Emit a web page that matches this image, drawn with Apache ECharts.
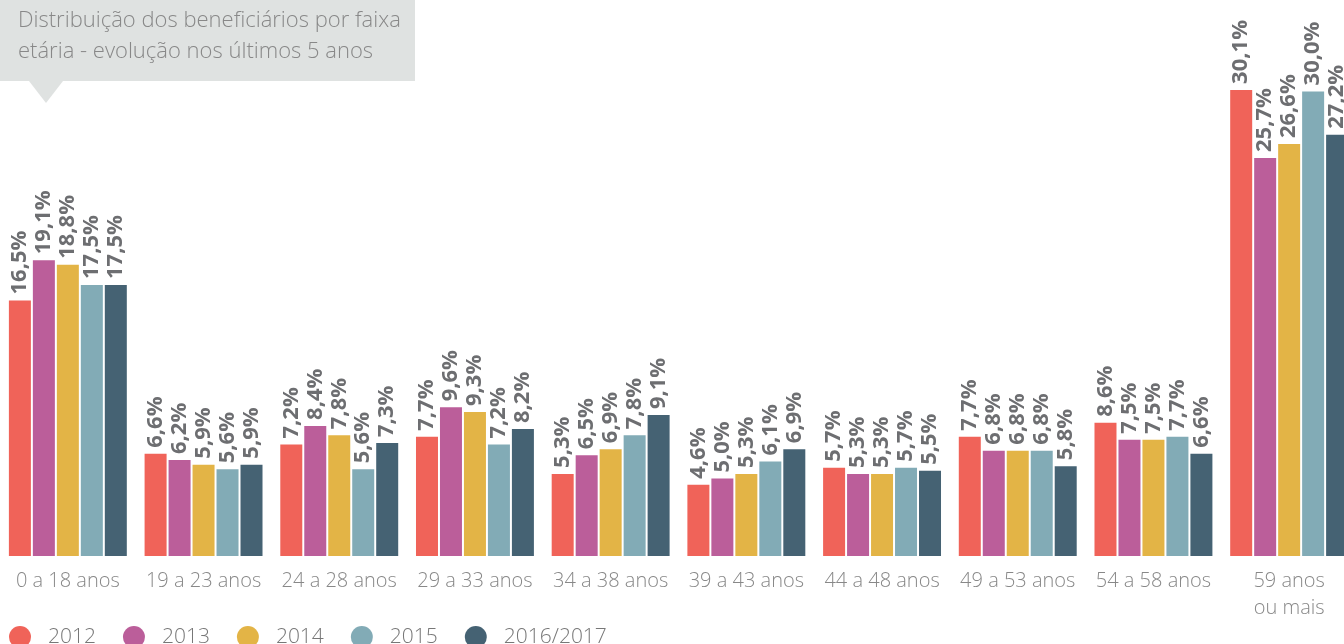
<!DOCTYPE html>
<html>
<head>
<meta charset="utf-8">
<script src="https://cdn.jsdelivr.net/npm/echarts@6/dist/echarts.min.js"></script>
<style>
  html, body { margin: 0; padding: 0; background: #fff; }
  #main { width: 1344px; height: 644px; }
</style>
</head>
<body>
<div id="main"></div>
<script>
var categories = ['0 a 18 anos', '19 a 23 anos', '24 a 28 anos', '29 a 33 anos', '34 a 38 anos',
  '39 a 43 anos', '44 a 48 anos', '49 a 53 anos', '54 a 58 anos', '59 anos\nou mais'];
var years = ['2012', '2013', '2014', '2015', '2016/2017'];
var v2012 = [16.5, 6.6, 7.2, 7.7, 5.3, 4.6, 5.7, 7.7, 8.6, 30.1];
var v2013 = [19.1, 6.2, 8.4, 9.6, 6.5, 5.0, 5.3, 6.8, 7.5, 25.7];
var v2014 = [18.8, 5.9, 7.8, 9.3, 6.9, 5.3, 5.3, 6.8, 7.5, 26.6];
var v2015 = [17.5, 5.6, 5.6, 7.2, 7.8, 6.1, 5.7, 6.8, 7.7, 30.0];
var v2016 = [17.5, 5.9, 7.3, 8.2, 9.1, 6.9, 5.5, 5.8, 6.6, 27.2];
var colors = ['#f06359', '#bb5e9a', '#e3b446', '#82abb6', '#456273'];

var chart = echarts.init(document.getElementById('main'));
var font = '"Open Sans", "Noto Sans", sans-serif';

function makeSeries(name, data) {
  return {
    name: name,
    type: 'bar',
    data: data,
    barWidth: 22,
    barGap: '9%',
    label: {
      show: true,
      position: 'top',
      rotate: 90,
      align: 'left',
      verticalAlign: 'middle',
      distance: 6,
      color: '#6d6e71',
      fontFamily: font,
      fontWeight: 'bold',
      fontSize: 22,
      formatter: function (p) {
        return p.value.toFixed(1).replace('.', ',') + '%';
      }
    }
  };
}

var option = {
  backgroundColor: '#fff',
  animation: false,
  color: colors,
  textStyle: { fontFamily: font },
  grid: { left: 0, right: -13, top: 14, bottom: 88, outerBoundsMode: 'none', containLabel: false },
  legend: {
    data: years,
    left: 9,
    bottom: -4,
    padding: 0,
    icon: 'circle',
    itemWidth: 22,
    itemHeight: 22,
    itemGap: 27,
    textStyle: { color: '#777', fontSize: 21, fontFamily: font, fontWeight: 300, padding: [0, 0, 0, 12] }
  },
  xAxis: {
    type: 'category',
    data: categories,
    axisLine: { show: false },
    axisTick: { show: false },
    axisLabel: { interval: 0, color: '#888', fontSize: 20, fontFamily: font, fontWeight: 300, margin: 12, lineHeight: 27 }
  },
  yAxis: {
    type: 'value',
    min: 0,
    max: 35,
    show: false
  },
  graphic: [
    {
      type: 'rect',
      shape: { x: 0, y: 0, width: 415, height: 81 },
      style: { fill: '#dfe2e1' }
    },
    {
      type: 'polygon',
      shape: { points: [[29, 81], [63, 81], [46, 103]] },
      style: { fill: '#dfe2e1' }
    },
    {
      type: 'text',
      left: 18,
      top: 5,
      style: {
        text: 'Distribuição dos beneficiários por faixa\netária - evolução nos últimos 5 anos',
        fill: '#888',
        font: '300 22px "Open Sans", "Noto Sans", sans-serif',
        lineHeight: 31
      }
    }
  ],
  series: [
    makeSeries(years[0], v2012),
    makeSeries(years[1], v2013),
    makeSeries(years[2], v2014),
    makeSeries(years[3], v2015),
    makeSeries(years[4], v2016)
  ]
};
chart.setOption(option);
</script>
</body>
</html>
